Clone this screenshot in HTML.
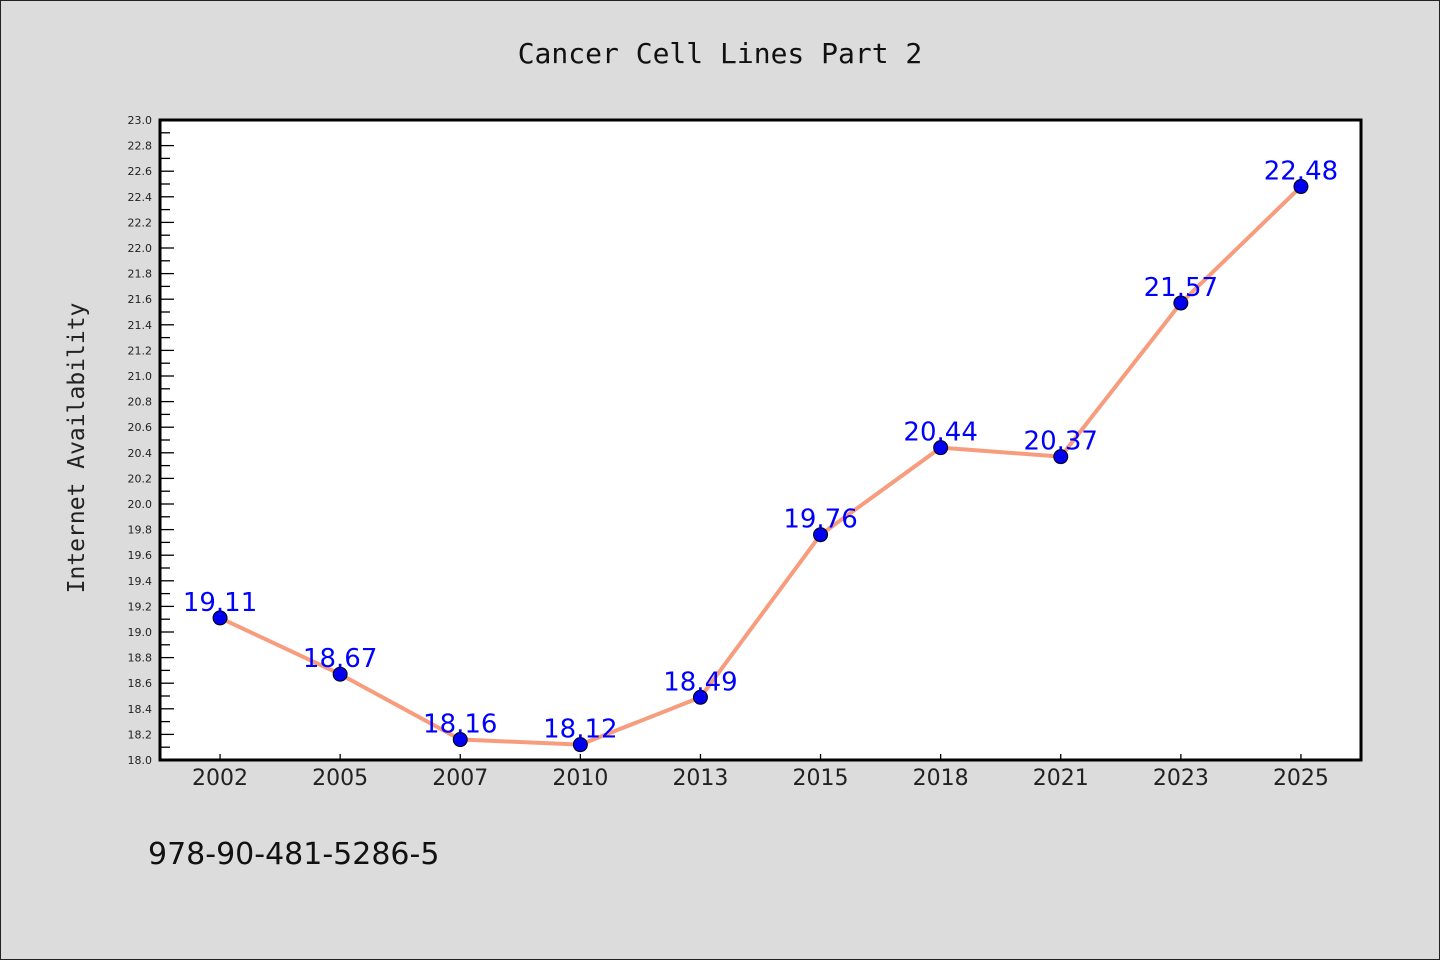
<!DOCTYPE html>
<html><head><meta charset="utf-8"><style>
body{margin:0;background:#dcdcdc;}
svg{display:block;font-family:"DejaVu Sans","Liberation Sans",sans-serif;}
</style></head><body>
<svg width="1440" height="960" xmlns="http://www.w3.org/2000/svg">
<rect x="0.5" y="0.5" width="1439" height="959" fill="#dcdcdc" stroke="#222"/>
<text x="720" y="63" text-anchor="middle" font-family="'DejaVu Sans Mono','Liberation Mono',monospace" font-size="28" fill="#111">Cancer Cell Lines Part 2</text>
<rect x="160" y="120" width="1201" height="640" fill="#fff"/>
<g id="ticks"></g>
<g id="series"></g>
<rect x="160" y="120" width="1201" height="640" fill="none" stroke="#000" stroke-width="3"/>
<text transform="translate(84,448) rotate(-90)" text-anchor="middle" font-family="'DejaVu Sans Mono','Liberation Mono',monospace" font-size="23" fill="#222">Internet Availability</text>
<text x="148" y="864" font-size="30" fill="#111">978-90-481-5286-5</text>
</svg>
<script>
const categories=["2002","2005","2007","2010","2013","2015","2018","2021","2023","2025"];
const values=[19.11,18.67,18.16,18.12,18.49,19.76,20.44,20.37,21.57,22.48];
const yTicks=["18.0","18.2","18.4","18.6","18.8","19.0","19.2","19.4","19.6","19.8","20.0","20.2","20.4","20.6","20.8","21.0","21.2","21.4","21.6","21.8","22.0","22.2","22.4","22.6","22.8","23.0"];
const NS="http://www.w3.org/2000/svg";
const L=160,R=1361,T=120,B=760,yMin=18,yMax=23;
const y=v=>B-(v-yMin)/(yMax-yMin)*(B-T);
const band=(R-L)/categories.length;
const x=i=>L+band*(i+0.5);
function mk(tag,attrs,parent){const e=document.createElementNS(NS,tag);for(const k in attrs)e.setAttribute(k,attrs[k]);parent.appendChild(e);return e;}
const tg=document.getElementById('ticks');
yTicks.forEach((t,i)=>{
 const v=parseFloat(t),yy=y(v);
 const ln=mk('line',{x1:L,x2:L+14,y1:yy,y2:yy,stroke:'#000','stroke-width':1.3},tg);
 
 
 const tx=mk('text',{x:L-8,y:yy+4,'text-anchor':'end','font-size':11,fill:'#222'},tg);
 tx.textContent=t;
 
 
 if(i<yTicks.length-1){const ym=y(v+0.1);
  const mn=mk('line',{x1:L,x2:L+10,y1:ym,y2:ym,stroke:'#000','stroke-width':1.3},tg);
  
  }
});
categories.forEach((c,i)=>{
 const xt=mk('line',{x1:x(i),x2:x(i),y1:B,y2:B-6,stroke:'#000','stroke-width':1.3},tg);
 
 
 const tx=mk('text',{x:x(i),y:B+25,'text-anchor':'middle','font-size':22,fill:'#222'},tg);
 tx.textContent=c;
 
 
});
const sg=document.getElementById('series');
const pl=mk('polyline',{points:values.map((v,i)=>x(i)+','+y(v)).join(' '),fill:'none',stroke:'#f79d7e','stroke-width':4,'stroke-linejoin':'round'},sg);


values.forEach((v,i)=>{
 const c=mk('circle',{cx:x(i),cy:y(v),r:7,fill:'#0000ee',stroke:'#000','stroke-width':1},sg);
 
 
 const t=mk('text',{x:x(i),y:y(v)-7,'text-anchor':'middle','font-size':26,fill:'#0000ff'},sg);
 t.textContent=v.toFixed(2);
 
 
});
</script>
</body></html>
